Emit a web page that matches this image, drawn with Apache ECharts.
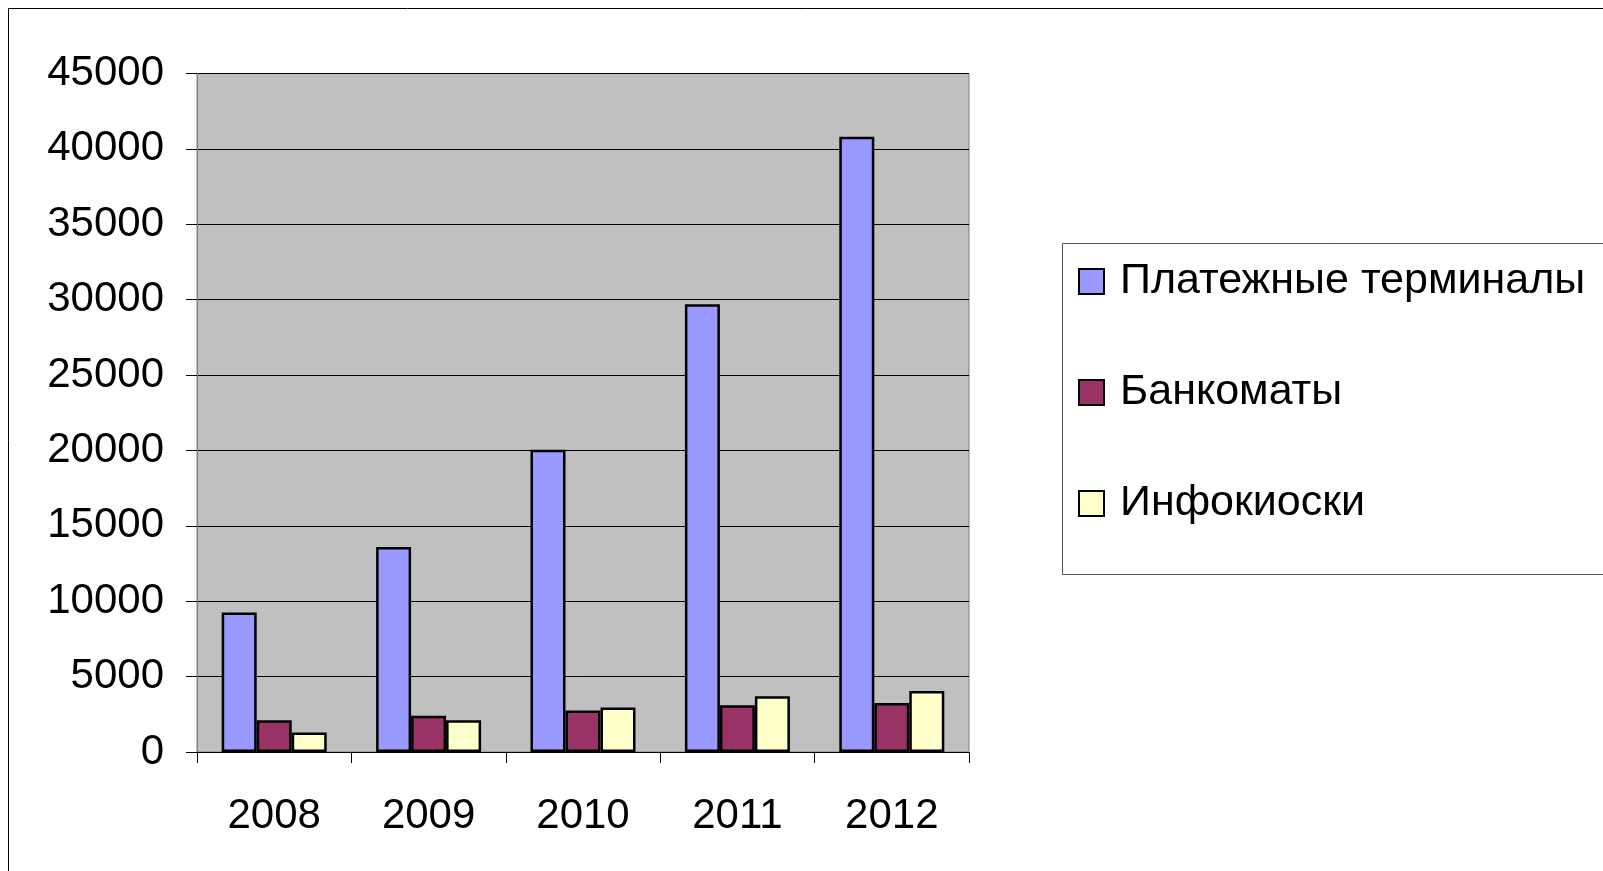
<!DOCTYPE html>
<html>
<head>
<meta charset="utf-8">
<script src="https://cdn.jsdelivr.net/npm/echarts@6/dist/echarts.min.js"></script>
<style>
  html, body { margin: 0; padding: 0; background: #fff; }
  #chart { width: 1603px; height: 871px; }
</style>
</head>
<body>
<div id="chart"></div>
<script>
// годы
const years = ['2008', '2009', '2010', '2011', '2012'];
// значения по рядам
const terminals = [9250, 13600, 20050, 29700, 40800];
const atms = [2100, 2400, 2750, 3100, 3250];
const kiosks = [1300, 2100, 2950, 3700, 4050];
const seriesNames = ['Платежные терминалы', 'Банкоматы', 'Инфокиоски'];

const font = '"Liberation Sans", Arial, sans-serif';

const myChart = echarts.init(document.getElementById('chart'));

const barStyle = (color) => ({
  color: color,
  borderColor: '#000',
  borderWidth: 2.5
});

const option = {
  animation: false,
  backgroundColor: '#fff',
  textStyle: { fontFamily: font },
  graphic: [
    {
      type: 'rect',
      silent: true,
      shape: { x: 8.5, y: 8.5, width: 1700, height: 1000 },
      style: { fill: 'none', stroke: '#000', lineWidth: 1 }
    },
    {
      type: 'rect',
      silent: true,
      shape: { x: 1062.5, y: 243.5, width: 700, height: 331 },
      style: { fill: '#fff', stroke: '#555', lineWidth: 1 },
      z: -1
    }
  ],
  grid: {
    left: 197,
    top: 73.5,
    width: 772,
    height: 678.5,
    show: true,
    backgroundColor: '#c0c0c0',
    borderColor: '#808080',
    borderWidth: 1
  },
  legend: {
    orient: 'vertical',
    left: 1073,
    top: 255,
    itemWidth: 25,
    itemHeight: 25,
    itemGap: 68,
    icon: 'rect',
    textStyle: {
      fontFamily: font,
      fontSize: 43,
      lineHeight: 42,
      color: '#000',
      padding: [0, 0, 0, 11]
    },
    data: seriesNames
  },
  xAxis: {
    type: 'category',
    data: years,
    axisLine: { show: true, lineStyle: { color: '#000', width: 1 } },
    axisTick: { show: true, length: 11, lineStyle: { color: '#000' } },
    axisLabel: {
      fontFamily: font,
      fontSize: 42,
      color: '#000',
      margin: 43
    }
  },
  yAxis: {
    type: 'value',
    min: 0,
    max: 45000,
    interval: 5000,
    axisLine: { show: true, lineStyle: { color: '#808080', width: 1 } },
    axisTick: { show: true, length: 11, lineStyle: { color: '#000' } },
    axisLabel: {
      fontFamily: font,
      fontSize: 42,
      color: '#000',
      margin: 33,
      formatter: (v) => String(v)
    },
    splitLine: { show: true, lineStyle: { color: '#000', width: 1 } }
  },
  series: [
    {
      name: seriesNames[0],
      type: 'bar',
      data: terminals,
      barWidth: 35,
      barGap: '0%',
      itemStyle: barStyle('#9999ff')
    },
    {
      name: seriesNames[1],
      type: 'bar',
      data: atms,
      barWidth: 35,
      barGap: '0%',
      itemStyle: barStyle('#993366')
    },
    {
      name: seriesNames[2],
      type: 'bar',
      data: kiosks,
      barWidth: 35,
      barGap: '0%',
      itemStyle: barStyle('#ffffcc')
    }
  ]
};

myChart.setOption(option);
</script>
</body>
</html>
